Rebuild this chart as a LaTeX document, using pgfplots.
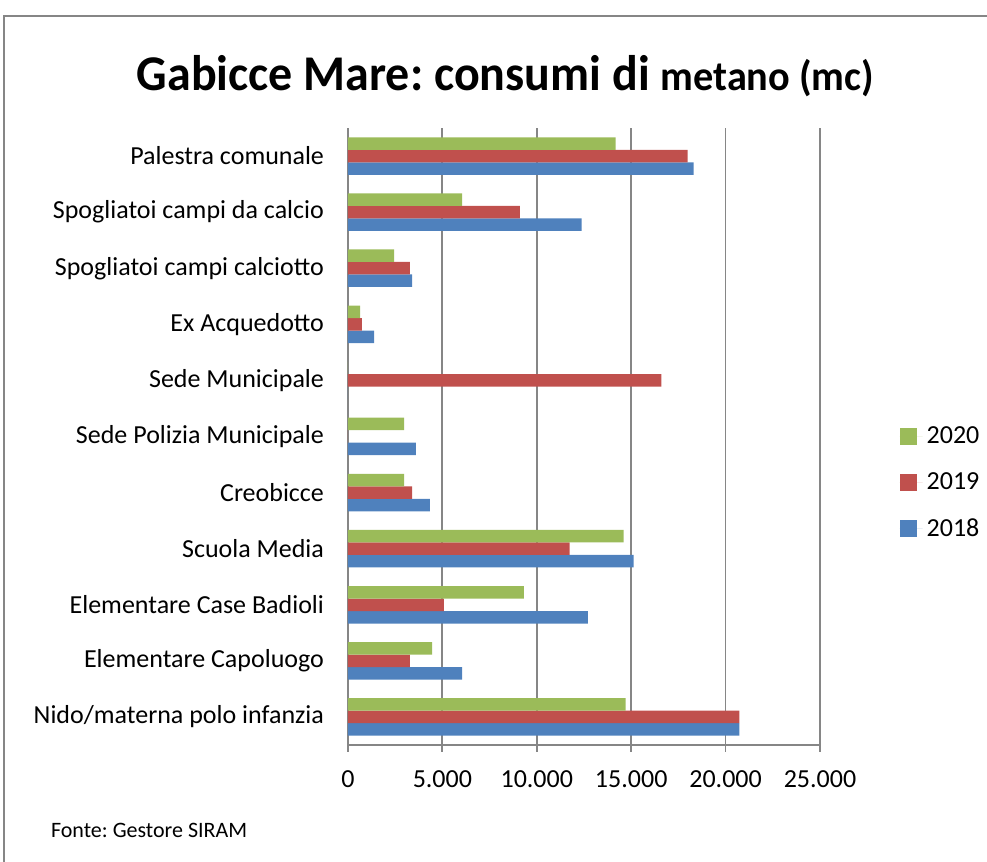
\documentclass[border=0pt]{standalone}
\usepackage{fontspec}
\setmainfont{Carlito}
\usepackage{pgfplots}
\pgfplotsset{compat=1.18}

\definecolor{c2018}{HTML}{4F81BD}
\definecolor{c2019}{HTML}{C0504D}
\definecolor{c2020}{HTML}{9BBB59}
\definecolor{gridgray}{HTML}{868686}

\begin{document}
\frenchspacing
\begin{tikzpicture}
\useasboundingbox (0,0) rectangle (493.5pt,431pt);
% outer chart frame
\draw[gridgray, line width=0.7pt] (2pt,0) -- (2pt,423pt) -- (493.5pt,423pt);
% title
\node[xscale=0.96] at (252.75pt,393pt) {\fontsize{25}{30}\selectfont\bfseries Gabicce Mare: consumi di {\fontsize{21}{25}\selectfont metano (mc)}};
% source
\node[anchor=west] at (22pt,16pt) {\fontsize{11}{13}\selectfont Fonte: Gestore SIRAM};
\begin{axis}[
  at={(174pt,58.5pt)}, anchor=south west,
  scale only axis, width=236pt, height=308.5pt,
  xbar, bar width=6.25pt,
  xmin=0, xmax=25000,
  ymin=-0.5, ymax=10.5,
  axis x line*=bottom, axis y line*=left,
  axis line style={gridgray, line width=0.9pt},
  xtick={0,5000,...,25000},
  xmajorgrids, major grid style={gridgray, line width=0.9pt},
  xtick style={gridgray, line width=0.9pt},
  ytick={0,...,10},
  yticklabels={Nido/materna polo infanzia, Elementare Capoluogo, Elementare Case Badioli, Scuola Media, Creobicce, Sede Polizia Municipale, Sede Municipale, Ex Acquedotto, Spogliatoi campi calciotto, Spogliatoi campi da calcio, Palestra comunale},
  minor ytick={-0.5,0.5,...,10.5},
  ytick style={draw=none},
  minor tick style={gridgray, line width=0.9pt},
  tick align=outside,
  major tick length=3.5pt, minor tick length=3.5pt,
  tick label style={font=\fontsize{13}{15}\selectfont},
  yticklabel style={xshift=-5pt},
  xticklabel style={yshift=-6pt},
  /pgf/number format/.cd, 1000 sep={.}, assume math mode=true, /pgfplots/.cd,
  scaled x ticks=false,
  legend style={draw=none, at={(1.168,0.4246)}, anchor=west, font=\fontsize{13}{15}\selectfont, row sep=9pt, inner sep=0pt},
  legend cell align=left,
  reverse legend,
  legend image code/.code={\path (0pt,0pt) -- (11.5pt,0pt); \fill[#1] (0pt,-4.25pt) rectangle (8.5pt,4.25pt);},
]
\addplot[fill=c2018, draw=none, bar shift=-6.25pt] coordinates {
  (20730,0) (6040,1) (12700,2) (15130,3) (4340,4) (3600,5) (0,6) (1380,7) (3390,8) (12380,9) (18310,10)
};
\addlegendentry{2018}
\addplot[fill=c2019, draw=none, bar shift=0pt] coordinates {
  (20730,0) (3280,1) (5080,2) (11740,3) (3390,4) (0,5) (16600,6) (740,7) (3280,8) (9110,9) (17990,10)
};
\addlegendentry{2019}
\addplot[fill=c2020, draw=none, bar shift=6.25pt] coordinates {
  (14710,0) (4450,1) (9320,2) (14600,3) (2970,4) (2970,5) (0,6) (640,7) (2440,8) (6040,9) (14180,10)
};
\addlegendentry{2020}
\end{axis}
\end{tikzpicture}
\end{document}
